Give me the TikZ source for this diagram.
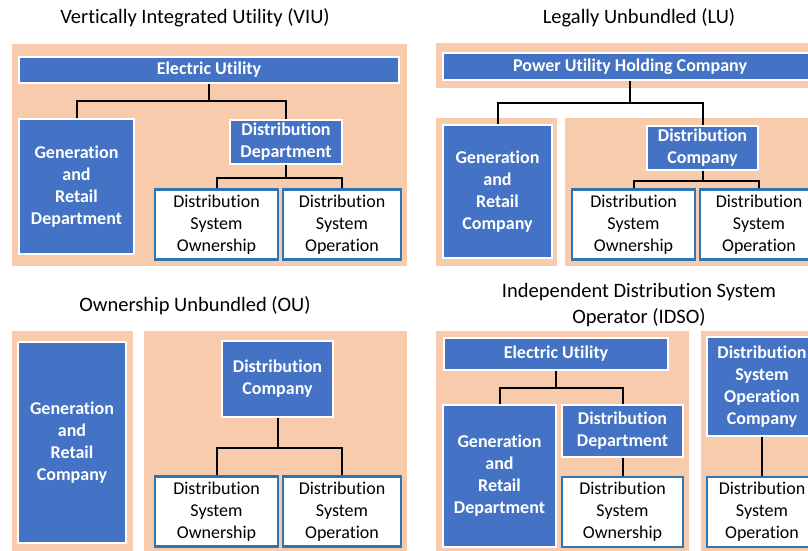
\documentclass[tikz,border=0pt]{standalone}
\usepackage{fontspec}
\setmainfont{Carlito}[Ligatures=NoCommon]
\usepackage{tikz}
\usetikzlibrary{positioning}

\definecolor{unitblue}{HTML}{4472C4}
\definecolor{peach}{HTML}{F8CBAD}
\definecolor{taskedge}{HTML}{2E75B6}

\begin{document}
\begin{tikzpicture}[
        x=1pt, y=-1pt,
        title/.style={
            align=center,
            font=\fontsize{20.5}{26}\selectfont
        },
        unit/.style={
            draw=white,
            line width=1.5pt,
            fill=unitblue,
            text=white,
            align=center,
            inner sep=0pt,
            font=\fontsize{18}{22}\selectfont\bfseries
        },
        task/.style={
            draw=taskedge,
            line width=2.25pt,
            fill=white,
            align=center,
            inner sep=0pt,
            minimum height=70pt,
            font=\fontsize{18}{22}\selectfont
        },
        backdrop/.style={fill=peach},
        link/.style={line width=2pt, black}
    ]
        \useasboundingbox (0,0) rectangle (808,550);

        % peach panels
        \fill[backdrop] (12,44) rectangle (407,266);
        \fill[backdrop] (436,43) rectangle (815,88);
        \fill[backdrop] (436,118) rectangle (557,266);
        \fill[backdrop] (565,118) rectangle (815,266);
        \fill[backdrop] (12,331) rectangle (133,555);
        \fill[backdrop] (144,331) rectangle (407,555);
        \fill[backdrop] (436,331) rectangle (689,555);
        \fill[backdrop] (701,331) rectangle (815,555);

        % titles
        \node[title] (viuT) at (195,18) {Vertically Integrated Utility (VIU)};
        \node[title] (luT) at (639,18) {Legally Unbundled (LU)};
        \node[title] (ouT) at (195,306) {Ownership Unbundled (OU)};
        \node[title] (idT) at (639,305) {Independent Distribution System\\Operator (IDSO)};

        % VIU
        \node[unit, minimum width=380pt, minimum height=26pt] (viuEU) at (209,70) {Electric Utility};
        \node[unit, minimum width=115pt, minimum height=135pt] (viuGen) at (76.5,186.5) {Generation\\and\\Retail\\Department};
        \node[unit, minimum width=112pt, minimum height=44pt] (viuDD) at (286,142) {Distribution\\Department};
        \node[task, minimum width=123pt] (viuOwn) at (216.5,224.5) {Distribution\\System\\Ownership};
        \node[task, minimum width=118pt] (viuOp) at (342,224.5) {Distribution\\System\\Operation};

        % LU
        \node[unit, minimum width=374pt, minimum height=27pt] (luPH) at (630,66.5) {Power Utility Holding Company};
        \node[unit, minimum width=109pt, minimum height=133pt] (luGen) at (497.5,191.5) {Generation\\and\\Retail\\Company};
        \node[unit, minimum width=111pt, minimum height=44pt] (luDC) at (702.5,148) {Distribution\\Company};
        \node[task, minimum width=123pt] (luOwn) at (633.5,224.5) {Distribution\\System\\Ownership};
        \node[task, minimum width=118pt] (luOp) at (759,224.5) {Distribution\\System\\Operation};

        % OU
        \node[unit, minimum width=108pt, minimum height=201pt] (ouGen) at (72,442.5) {Generation\\and\\Retail\\Company};
        \node[unit, minimum width=111pt, minimum height=76pt] (ouDC) at (277.5,379) {Distribution\\Company};
        \node[task, minimum width=123pt] (ouOwn) at (216.5,511.5) {Distribution\\System\\Ownership};
        \node[task, minimum width=118pt] (ouOp) at (342,511.5) {Distribution\\System\\Operation};

        % IDSO
        \node[unit, minimum width=224pt, minimum height=32pt] (idEU) at (556,354) {Electric Utility};
        \node[unit, minimum width=113pt, minimum height=142pt] (idGen) at (499.5,476) {Generation\\and\\Retail\\Department};
        \node[unit, minimum width=121pt, minimum height=52pt] (idDD) at (622.5,431) {Distribution\\Department};
        \node[task, minimum width=121pt] (idOwn) at (622.5,512) {Distribution\\System\\Ownership};
        \node[unit, minimum width=110pt, minimum height=99pt] (idDSO) at (762,386.5) {Distribution\\System\\Operation\\Company};
        \node[task, minimum width=110pt] (idOp) at (762,512) {Distribution\\System\\Operation};

        % connectors
        \foreach \parent/\child/\drop in {viuEU/viuGen/17, viuEU/viuDD/17, viuDD/viuOwn/13, viuDD/viuOp/13,
                luPH/luGen/22, luPH/luDC/22, luDC/luOwn/10, luDC/luOp/10,
                ouDC/ouOwn/30, ouDC/ouOp/30,
                idEU/idGen/17, idEU/idDD/17} {
            \draw[link] (\parent.south) -- ++(0,\drop) -| (\child.north);
        }
        \draw[link] (idDD.south) -- (idOwn.north);
        \draw[link] (idDSO.south) -- (idOp.north);
    \end{tikzpicture}
\end{document}
